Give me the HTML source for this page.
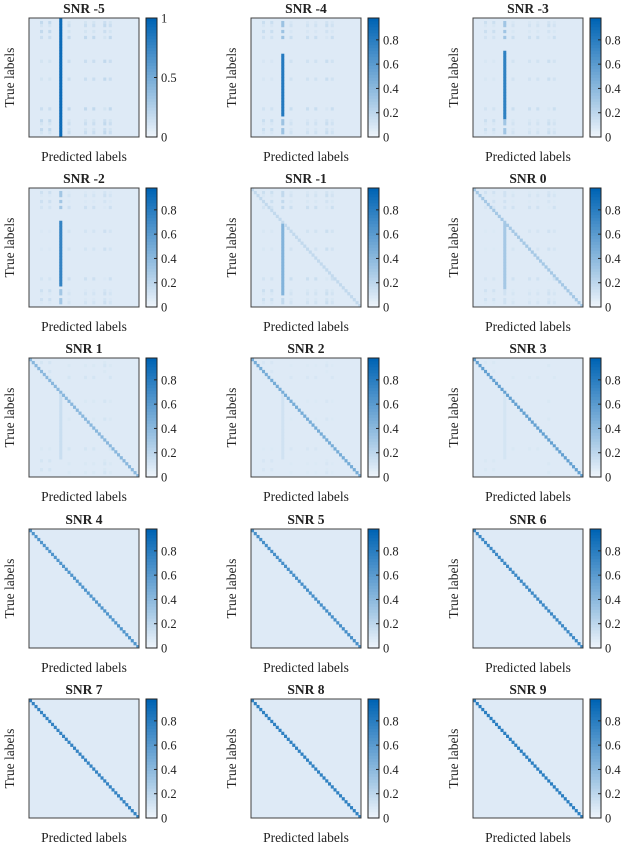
<!DOCTYPE html>
<html><head><meta charset="utf-8"><style>
body{margin:0;background:#fff;}
svg{display:block;font-family:"Liberation Serif",serif;}
</style></head>
<body>
<svg id="fig" width="622" height="844" viewBox="0 0 622 844" xmlns="http://www.w3.org/2000/svg"></svg>
<script>
// data
const snrLabels = [-5,-4,-3,-2,-1,0,1,2,3,4,5,6,7,8,9];
const diagStrength = [0.0,0.02,0.05,0.07,0.18,0.3,0.42,0.5,0.58,0.66,0.7,0.74,0.78,0.8,0.82];
const attractStrength = [0.95,0.85,0.8,0.78,0.45,0.3,0.15,0.12,0.1,0.07,0.05,0.03,0.02,0.01,0.01];
const attractRowStart = [0,12,11,11,12,12,12,12,12,12,12,12,12,12,12];
const attractRowEnd = [39,32,33,32,35,33,33,33,33,33,33,33,33,33,33];
const speckleLevel = [0.18,0.15,0.14,0.13,0.14,0.12,0.1,0.09,0.08,0.06,0.05,0.04,0.03,0.02,0.02];
const cbarTicksFirst = [0,0.5,1];
const cbarTicks = [0,0.2,0.4,0.6,0.8];
const N = 40;
const attractCol = 11;
const speckleCols = [4,7,14,20,23,27,29];
const speckleRows = [1,2,4,6,14,20,30,34,35,37,38];

const svg = document.getElementById('fig');
const NS = 'http://www.w3.org/2000/svg';
function mk(tag, attrs, parent){const e=document.createElementNS(NS,tag);for(const k in attrs)e.setAttribute(k,attrs[k]);(parent||svg).appendChild(e);return e;}
function color(v){v=Math.max(0,Math.min(1,v));const a=[236,243,250],b=[0,100,180];
  return 'rgb('+a.map((x,i)=>Math.round(x+(b[i]-x)*v)).join(',')+')';}
const colX=[29,251,473], rowY=[18,188,358,529,699];
const W=110,H=119;

snrLabels.forEach((snr,p)=>{
  const x0=colX[p%3], y0=rowY[Math.floor(p/3)];
  const g=mk('g',{});
  
  
  const xs=c=>x0+c*W/N, ys=r=>y0+r*H/N;
  const bg=mk('rect',{x:x0,y:y0,width:W,height:H,fill:color(0.06)},g);
  
  
  for(let r=0;r<N;r++){for(let c=0;c<N;c++){
    let v=0;
    if(speckleRows.includes(r)&&speckleCols.includes(c)) v=speckleLevel[p]*(0.6+0.4*((r+c)%3)/2);
    if(c===attractCol && r>=attractRowStart[p] && r<=attractRowEnd[p]) v=attractStrength[p];
    else if(c===attractCol && speckleRows.includes(r)) v=Math.max(v,attractStrength[p]*0.4);
    if(r===c) v=Math.max(v,diagStrength[p]);
    if(v>0.07){
      const cell=mk('rect',{x:xs(c),y:ys(r),width:W/N+0.3,height:H/N+0.3,fill:color(v)},g);
      
      
    }
  }}
  const fr=mk('rect',{x:x0,y:y0,width:W,height:H,fill:'none',stroke:'#404040','stroke-width':1},g);
  
  
  const t=mk('text',{x:x0+W/2,y:y0-5,'text-anchor':'middle','font-size':'13.5','font-weight':'bold',fill:'#222'},g);
  t.textContent='SNR '+snr;
  
  
  const yl=mk('text',{x:0,y:0,transform:'translate('+(x0-15)+','+(y0+H/2)+') rotate(-90)','text-anchor':'middle','font-size':'13.5',fill:'#222'},g);
  yl.textContent='True labels';
  
  
  const xl=mk('text',{x:x0+W/2,y:y0+H+24,'text-anchor':'middle','font-size':'13.5',fill:'#222'},g);
  xl.textContent='Predicted labels';
  
  
  // colorbar
  const cx=x0+117, cw=11, max=p===0?1:0.98;
  const steps=40;
  for(let i=0;i<steps;i++){
    const s=mk('rect',{x:cx,y:y0+H-(i+1)*H/steps,width:cw,height:H/steps+0.4,fill:color(i/(steps-1))},g);
    
    
  }
  const cb=mk('rect',{x:cx,y:y0,width:cw,height:H,fill:'none',stroke:'#222','stroke-width':1},g);
  
  
  (p===0?cbarTicksFirst:cbarTicks).forEach(tv=>{
    const ty=y0+H-tv/max*H;
    const tk=mk('line',{x1:cx+cw-3,x2:cx+cw,y1:ty,y2:ty,stroke:'#222'},g);
    
    
    const tl=mk('text',{x:cx+cw+4,y:ty+4.5,'font-size':'12.5',fill:'#222'},g);
    tl.textContent=String(tv);
    
    
  });
});
</script>
</body></html>
